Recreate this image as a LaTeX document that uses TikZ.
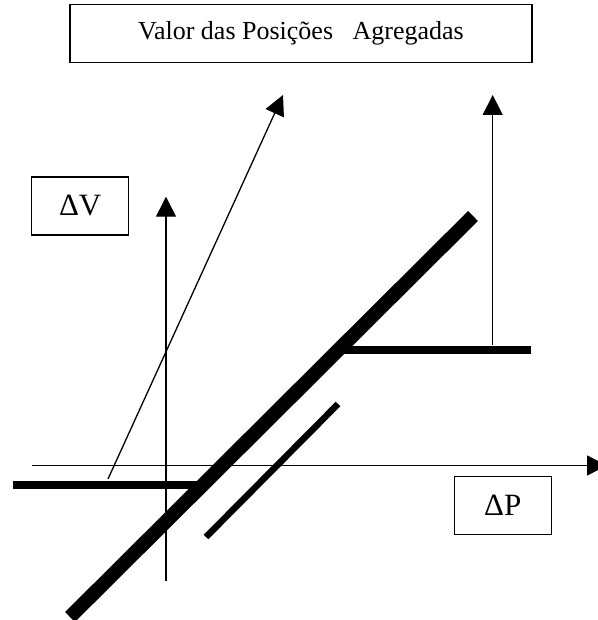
\documentclass[tikz,border=0pt]{standalone}
\usepackage{fontspec}
\setmainfont{Liberation Serif}
\usetikzlibrary{arrows.meta}

\begin{document}
\begin{tikzpicture}[x=1pt,y=-1pt,font=\fontsize{26}{30}\selectfont,
    labelbox/.style={draw,line width=1.3pt,inner sep=0pt,minimum height=58pt},
    axis/.style={line width=1.3pt,-{Triangle[length=20pt,width=20pt]}},
    payoff/.style={line width=8pt}]
  \useasboundingbox (0,0) rectangle (597,620);

  % boxes
  \node[labelbox,minimum width=462pt] (title) at (301,33.3) {Valor das Posições~~ Agregadas};
  \node[labelbox,minimum width=97pt,font=\fontsize{31}{36}\selectfont] (dV) at (80.2,206) {ΔV};
  \node[labelbox,minimum width=97pt,font=\fontsize{31}{36}\selectfont] (dP) at (502.7,505.7) {ΔP};

  % axes
  \coordinate (xstart) at (31.7,465.5);
  \coordinate (xend) at (607,465.5);
  \coordinate (ystart) at (166,580.7);
  \coordinate (yend) at (166,196.7);
  \draw[axis] (xstart) -- (xend);
  \draw[axis] (ystart) -- (yend);

  % value lines
  \coordinate (lowleft) at (12.7,484.5);
  \coordinate (kinklow) at (202,484.5);
  \coordinate (kinkhigh) at (337,350);
  \coordinate (highright) at (531,350);
  \coordinate (diagstart) at (70,617);
  \coordinate (diagend) at (473,216);
  \coordinate (parstart) at (206,537);
  \coordinate (parend) at (338,404);
  \draw[payoff] (lowleft) -- (kinklow);
  \draw[payoff] (kinkhigh) -- (highright);
  \draw[line width=14pt] (diagstart) -- (diagend);
  \draw[line width=6.5pt] (parstart) -- (parend);

  % arrows towards the title
  \coordinate (slantstart) at (108,479);
  \coordinate (slantend) at (283,95);
  \coordinate (upstart) at (492.7,345);
  \coordinate (upend) at (492.7,95);
  \draw[axis] (slantstart) -- (slantend);
  \draw[axis] (upstart) -- (upend);
\end{tikzpicture}
\end{document}
